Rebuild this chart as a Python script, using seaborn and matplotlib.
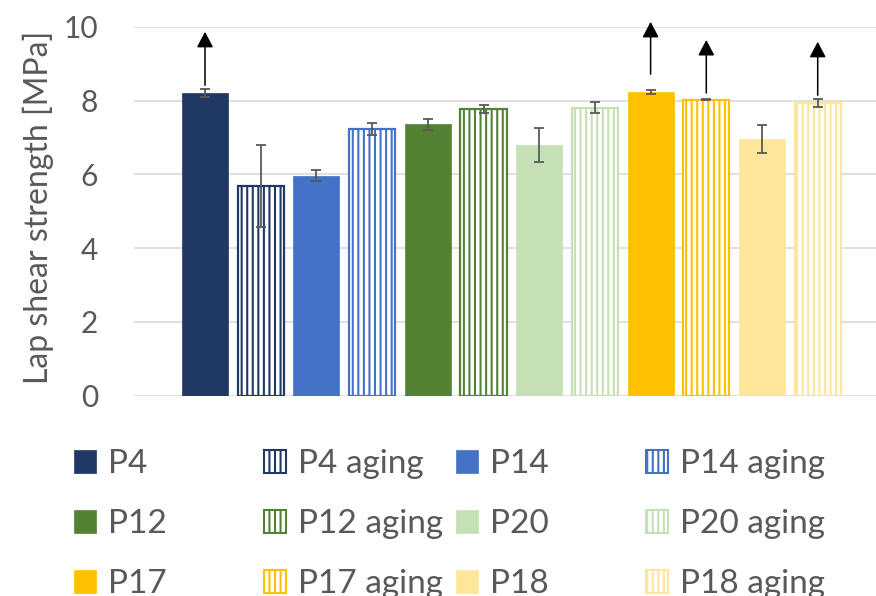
import matplotlib
matplotlib.use("Agg")
import matplotlib.pyplot as plt
import seaborn as sns
import pandas as pd
from matplotlib.patches import Patch

# Lap shear strength per adhesive formulation, before and after aging
samples = ["P4", "P4 aging", "P14", "P14 aging", "P12", "P12 aging",
           "P20", "P20 aging", "P17", "P17 aging", "P18", "P18 aging"]
strength = [8.20, 5.69, 5.97, 7.23, 7.36, 7.78, 6.79, 7.81, 8.23, 8.03, 6.96, 7.94]
strength_sd = [0.11, 1.12, 0.16, 0.17, 0.15, 0.11, 0.46, 0.15, 0.06, 0.01, 0.39, 0.11]
colors = ["#203864", "#203864", "#4472C4", "#4472C4", "#548235", "#548235",
          "#C5E0B4", "#C5E0B4", "#FFC000", "#FFC000", "#FFE699", "#FFE699"]

# Samples where the substrate failed first: true strength is higher (arrow)
lower_bound = ["P4", "P17", "P17 aging", "P18 aging"]
arrow_base = [8.42, 8.72, 8.21, 8.15]
arrow_tip = [9.87, 10.14, 9.65, 9.60]

yticks = [0, 2, 4, 6, 8, 10]

sns.set_theme(style="white")
plt.rcParams["font.family"] = ["Lato", "DejaVu Sans"]
plt.rcParams["hatch.linewidth"] = 1.5

TEXT = "#595959"
FS_TICK = 21.5
FS_LABEL = 23
FS_LEG = 24

df = pd.DataFrame({"sample": samples, "strength": strength})

W, H = 876, 596
fig = plt.figure(figsize=(W / 100, H / 100), dpi=100)
x0, y_top, y_bot = 134, 27, 395.7
ax = fig.add_axes([x0 / W, 1 - y_bot / H, 1 - x0 / W, (y_bot - y_top) / H])

sns.barplot(data=df, x="sample", y="strength", hue="sample", order=samples,
            hue_order=samples, palette=colors, legend=False, errorbar=None,
            width=0.826, dodge=False, ax=ax, saturation=1)

# aged samples: white fill with vertical stripes in the sample colour
for i, bar in enumerate(ax.patches):
    c = colors[i]
    if samples[i].endswith("aging"):
        bar.set_facecolor("white")
        bar.set_edgecolor(c)
        bar.set_hatch("|||")
        bar.set_linewidth(1.6)
    else:
        bar.set_edgecolor(c)
        bar.set_linewidth(0.5)

ax.errorbar(range(len(samples)), strength, yerr=strength_sd, fmt="none",
            ecolor="#595959", elinewidth=1.3, capsize=3.6, capthick=1.3, zorder=4)

for name, b, t in zip(lower_bound, arrow_base, arrow_tip):
    xi = samples.index(name)
    ax.annotate("", xy=(xi, t), xytext=(xi, b),
                arrowprops=dict(arrowstyle="-|>,head_length=0.95,head_width=0.5",
                                mutation_scale=10, color="black", lw=1.1,
                                shrinkA=0, shrinkB=0),
                annotation_clip=False, zorder=5)

step = 55.7
ax.set_xlim(-(205 - x0) / step, (W - 205) / step)
ax.set_ylim(0, 10)
ax.set_yticks(yticks)
ax.set_yticklabels([str(v) for v in yticks])
ax.set_xticks([])
ax.set_xlabel("")
ax.set_ylabel("Lap shear strength [MPa]", fontsize=FS_LABEL, color=TEXT)
ax.yaxis.set_label_coords(-0.108, 0.51)
ax.tick_params(axis="y", length=0, pad=26, labelsize=FS_TICK, labelcolor=TEXT)
ax.yaxis.grid(True, color="#D9D9D9", lw=1.2)
ax.set_axisbelow(True)
for s in ax.spines.values():
    s.set_visible(False)

# legend laid out as four columns of three rows
col_x = [74, 264, 456, 646]
hsize = 22 / (FS_LEG * 100 / 72)
for c in range(4):
    handles = []
    for r in range(3):
        i = r * 4 + c
        if samples[i].endswith("aging"):
            h = Patch(facecolor="white", edgecolor=colors[i], hatch="|||",
                      linewidth=1.5, label=samples[i])
        else:
            h = Patch(facecolor=colors[i], edgecolor=colors[i], linewidth=0.5,
                      label=samples[i])
        handles.append(h)
    fig.legend(handles=handles, loc="upper left",
               bbox_to_anchor=(col_x[c] / W, 1 - 449 / H),
               frameon=False, fontsize=FS_LEG, labelcolor=TEXT,
               handlelength=hsize, handleheight=hsize, handletextpad=0.35,
               labelspacing=0.9, borderpad=0, borderaxespad=0)

fig.savefig("out.png", dpi=100)
